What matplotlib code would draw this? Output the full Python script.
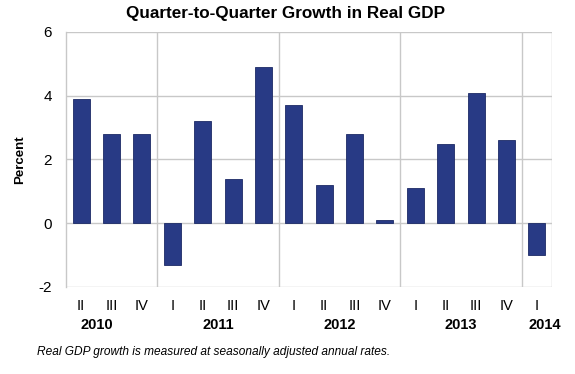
import matplotlib
matplotlib.use("Agg")
import matplotlib.pyplot as plt
import numpy as np

plt.rcParams["font.family"] = ["Liberation Sans", "DejaVu Sans"]
plt.rcParams["axes.unicode_minus"] = False

quarters = ["II", "III", "IV", "I", "II", "III", "IV", "I", "II", "III", "IV",
            "I", "II", "III", "IV", "I"]
growth = [3.9, 2.8, 2.8, -1.3, 3.2, 1.4, 4.9, 3.7, 1.2, 2.8, 0.1,
          1.1, 2.5, 4.1, 2.6, -1.0]
years = ["2010", "2011", "2012", "2013", "2014"]
year_centers = [0.5, 4.5, 8.5, 12.5, 15.25]
year_breaks = [2.5, 6.5, 10.5, 14.5]

BAR = "#283a85"
GRID = "#c8c8c8"

fig = plt.figure(figsize=(5.75, 3.74), dpi=100)
ax = fig.add_axes([0.1148, 0.2327, 0.8452, 0.6818])

x = np.arange(len(growth))
ax.bar(x, growth, width=0.56, color=BAR, edgecolor="#1c2a66", linewidth=0.6, zorder=3)

ax.set_xlim(-0.5, len(growth) - 0.5)
ax.set_ylim(-2, 6)
ax.set_yticks([-2, 0, 2, 4, 6])
ax.yaxis.grid(True, color=GRID, lw=1.0, zorder=0)
for b in year_breaks + [len(growth) - 0.5]:
    ax.axvline(b, color=GRID, lw=1.0, zorder=0)

for s in ["top", "right", "bottom"]:
    ax.spines[s].set_visible(False)
ax.spines["left"].set_color(GRID)
ax.spines["left"].set_linewidth(1.0)

ax.tick_params(axis="y", length=0, pad=10, labelsize=11)
ax.set_xticks(x)
ax.set_xticklabels(quarters, fontsize=10.5)
ax.tick_params(axis="x", length=0, pad=9)

for yr, c in zip(years, year_centers):
    ax.text(c, -0.149, yr, transform=ax.get_xaxis_transform(), ha="center", va="center",
            fontsize=10.5, fontweight="bold")

ax.set_ylabel("Percent", fontsize=9.5, fontweight="bold", labelpad=9)

fig.text(0.496, 0.965, "Quarter-to-Quarter Growth in Real GDP", ha="center", va="center",
         fontsize=12.3, fontweight="bold")
fig.text(0.064, 0.059, "Real GDP growth is measured at seasonally adjusted annual rates.",
         ha="left", va="center", fontsize=8.6, style="italic")

fig.savefig("out.png", dpi=100)
plt.close(fig)
